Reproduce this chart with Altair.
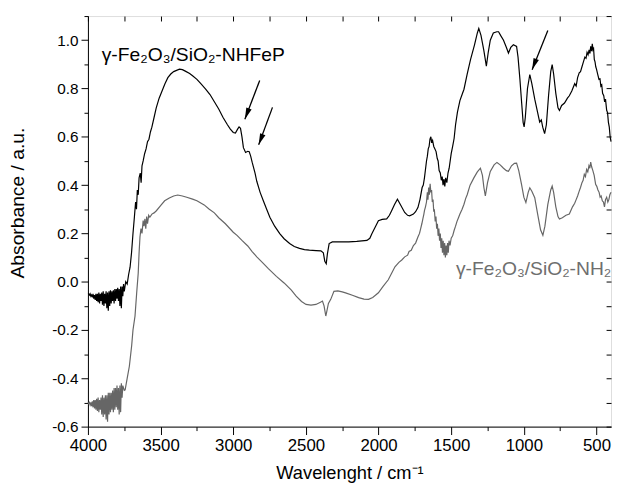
import altair as alt
import pandas as pd

# ---- data: (wavenumber cm-1, absorbance) ----
fep_points = [
    (4000, -0.05), (3995, -0.05), (3990, -0.055), (3985, -0.05), (3980, -0.06), (3975, -0.055),
    (3970, -0.065), (3965, -0.05), (3960, -0.07), (3955, -0.055), (3950, -0.075), (3945, -0.05),
    (3940, -0.08), (3935, -0.05), (3930, -0.085), (3925, -0.045), (3920, -0.09), (3915, -0.05),
    (3910, -0.08), (3905, -0.045), (3900, -0.095), (3895, -0.04), (3890, -0.10), (3885, -0.05),
    (3880, -0.09), (3875, -0.04), (3870, -0.11), (3865, -0.045), (3860, -0.12), (3855, -0.04),
    (3850, -0.10), (3845, -0.035), (3840, -0.09), (3835, -0.04), (3830, -0.08), (3825, -0.035),
    (3820, -0.09), (3815, -0.03), (3810, -0.08), (3805, -0.03), (3800, -0.07), (3795, -0.025),
    (3790, -0.08), (3785, -0.03), (3780, -0.10), (3775, -0.02), (3770, -0.11), (3765, -0.02),
    (3760, -0.06), (3755, -0.01), (3750, -0.04), (3740, 0.0), (3730, -0.01), (3720, 0.03),
    (3710, 0.06), (3700, 0.12), (3690, 0.20), (3680, 0.27), (3672, 0.33), (3666, 0.30),
    (3660, 0.38), (3654, 0.36), (3648, 0.43), (3640, 0.45), (3634, 0.41), (3628, 0.48),
    (3620, 0.50), (3610, 0.53), (3600, 0.55), (3590, 0.58), (3580, 0.59), (3570, 0.62),
    (3560, 0.64), (3545, 0.68), (3530, 0.72), (3510, 0.76), (3490, 0.79), (3470, 0.82),
    (3450, 0.845), (3430, 0.86), (3410, 0.87), (3390, 0.875), (3370, 0.88), (3350, 0.878),
    (3330, 0.872), (3300, 0.862), (3280, 0.853), (3250, 0.838), (3220, 0.818), (3190, 0.797),
    (3160, 0.775), (3130, 0.745), (3100, 0.715), (3070, 0.68), (3040, 0.65), (3020, 0.632),
    (3000, 0.618), (2985, 0.616), (2970, 0.632), (2960, 0.641), (2950, 0.635), (2940, 0.60),
    (2930, 0.555), (2915, 0.535), (2900, 0.54), (2890, 0.538), (2880, 0.52), (2870, 0.495),
    (2850, 0.45), (2838, 0.416), (2815, 0.37), (2793, 0.335), (2770, 0.30), (2748, 0.267),
    (2715, 0.23), (2680, 0.199), (2650, 0.178), (2612, 0.158), (2580, 0.146), (2544, 0.138),
    (2510, 0.133), (2476, 0.131), (2430, 0.129), (2397, 0.128), (2380, 0.12), (2370, 0.085),
    (2360, 0.075), (2352, 0.115), (2340, 0.158), (2318, 0.165), (2260, 0.165), (2205, 0.165),
    (2150, 0.167), (2080, 0.171), (2060, 0.18), (2046, 0.199), (2020, 0.23), (2001, 0.253),
    (1975, 0.258), (1944, 0.26), (1925, 0.275), (1910, 0.294), (1890, 0.32), (1870, 0.342),
    (1850, 0.32), (1820, 0.287), (1800, 0.275), (1786, 0.273), (1760, 0.28), (1745, 0.29),
    (1729, 0.307), (1715, 0.34), (1700, 0.39), (1692, 0.40), (1684, 0.43), (1676, 0.47),
    (1670, 0.50), (1664, 0.52), (1658, 0.55), (1652, 0.56), (1646, 0.59), (1640, 0.60),
    (1634, 0.575), (1628, 0.585), (1620, 0.56), (1612, 0.55), (1604, 0.539), (1596, 0.51),
    (1590, 0.50), (1583, 0.46), (1575, 0.45), (1568, 0.42), (1562, 0.435), (1556, 0.40),
    (1550, 0.425), (1544, 0.395), (1538, 0.43), (1530, 0.41), (1522, 0.45), (1514, 0.47),
    (1500, 0.53), (1490, 0.56), (1480, 0.593), (1470, 0.65), (1457, 0.702), (1440, 0.75),
    (1425, 0.775), (1412, 0.797), (1390, 0.86), (1367, 0.92), (1340, 0.98), (1320, 1.03),
    (1310, 1.049), (1295, 1.02), (1276, 0.96), (1258, 0.893), (1245, 0.95), (1231, 1.0),
    (1210, 1.03), (1186, 1.035), (1174, 1.035), (1160, 1.02), (1140, 1.0), (1120, 0.97),
    (1106, 0.947), (1090, 0.97), (1072, 0.981), (1050, 0.974), (1040, 0.93), (1027, 0.838),
    (1015, 0.74), (1005, 0.66), (998, 0.641), (990, 0.68), (975, 0.80), (959, 0.858),
    (945, 0.82), (925, 0.756), (905, 0.70), (891, 0.661), (880, 0.67), (870, 0.64),
    (857, 0.613), (845, 0.65), (830, 0.77), (815, 0.87), (805, 0.899), (795, 0.86),
    (780, 0.78), (765, 0.72), (755, 0.709), (740, 0.73), (720, 0.74), (700, 0.76),
    (687, 0.77), (670, 0.79), (650, 0.82), (640, 0.81), (630, 0.845), (619, 0.865),
    (610, 0.87), (600, 0.89), (590, 0.91), (580, 0.93), (572, 0.925), (565, 0.95),
    (558, 0.94), (551, 0.96), (545, 0.945), (540, 0.975), (534, 0.955), (529, 0.985),
    (524, 0.96), (520, 0.965), (515, 0.92), (510, 0.91), (505, 0.89), (500, 0.88),
    (492, 0.86), (483, 0.838), (476, 0.84), (470, 0.81), (464, 0.815), (458, 0.78),
    (450, 0.77), (444, 0.745), (438, 0.756), (430, 0.71), (424, 0.70), (418, 0.66),
    (412, 0.64), (406, 0.60), (400, 0.58),
]

nh2_points = [
    (4000, -0.50), (3995, -0.505), (3990, -0.50), (3985, -0.51), (3980, -0.50), (3975, -0.515),
    (3970, -0.495), (3965, -0.52), (3960, -0.49), (3955, -0.525), (3950, -0.49), (3945, -0.53),
    (3940, -0.485), (3935, -0.535), (3930, -0.48), (3925, -0.54), (3920, -0.49), (3915, -0.53),
    (3910, -0.48), (3905, -0.55), (3900, -0.47), (3895, -0.56), (3890, -0.48), (3885, -0.55),
    (3880, -0.47), (3875, -0.57), (3870, -0.47), (3865, -0.58), (3860, -0.46), (3855, -0.55),
    (3850, -0.46), (3845, -0.54), (3840, -0.46), (3835, -0.53), (3830, -0.45), (3825, -0.54),
    (3820, -0.44), (3815, -0.53), (3810, -0.44), (3805, -0.52), (3800, -0.43), (3795, -0.53),
    (3790, -0.44), (3785, -0.55), (3780, -0.43), (3775, -0.54), (3770, -0.42), (3765, -0.48),
    (3760, -0.43), (3750, -0.45), (3744, -0.448), (3730, -0.40), (3715, -0.35), (3699, -0.264),
    (3690, -0.20), (3676, -0.142), (3665, -0.05), (3654, 0.035), (3648, 0.12), (3642, 0.185),
    (3635, 0.22), (3628, 0.20), (3620, 0.253), (3614, 0.23), (3608, 0.26), (3602, 0.22),
    (3596, 0.27), (3590, 0.24), (3582, 0.275), (3574, 0.267), (3560, 0.28), (3545, 0.285),
    (3529, 0.294), (3500, 0.315), (3472, 0.335), (3440, 0.347), (3410, 0.355), (3382, 0.359),
    (3350, 0.355), (3320, 0.35), (3280, 0.342), (3250, 0.335), (3200, 0.318), (3167, 0.301),
    (3130, 0.285), (3100, 0.265), (3054, 0.24), (3000, 0.205), (2974, 0.192), (2940, 0.171),
    (2900, 0.148), (2870, 0.125), (2838, 0.103), (2800, 0.08), (2760, 0.055), (2703, 0.022),
    (2650, -0.005), (2600, -0.035), (2567, -0.06), (2530, -0.082), (2499, -0.094), (2465, -0.097),
    (2431, -0.094), (2400, -0.085), (2386, -0.08), (2375, -0.10), (2363, -0.142), (2355, -0.12),
    (2345, -0.09), (2329, -0.073), (2307, -0.04), (2280, -0.038), (2250, -0.042), (2227, -0.046),
    (2180, -0.056), (2137, -0.066), (2100, -0.072), (2069, -0.073), (2040, -0.065), (2001, -0.046),
    (1970, -0.02), (1933, 0.008), (1910, 0.035), (1887, 0.062), (1860, 0.08), (1840, 0.09),
    (1820, 0.103), (1800, 0.11), (1790, 0.125), (1775, 0.13), (1760, 0.15), (1745, 0.16),
    (1729, 0.185), (1718, 0.20), (1710, 0.22), (1702, 0.24), (1695, 0.26), (1688, 0.28),
    (1684, 0.294), (1677, 0.31), (1670, 0.33), (1664, 0.37), (1660, 0.34), (1655, 0.39),
    (1650, 0.36), (1645, 0.405), (1640, 0.37), (1635, 0.38), (1630, 0.33), (1625, 0.34),
    (1620, 0.29), (1616, 0.30), (1610, 0.25), (1605, 0.27), (1600, 0.22), (1595, 0.24),
    (1590, 0.19), (1585, 0.22), (1580, 0.17), (1575, 0.20), (1570, 0.14), (1565, 0.18),
    (1560, 0.12), (1555, 0.17), (1550, 0.11), (1545, 0.16), (1540, 0.10), (1535, 0.15),
    (1530, 0.11), (1525, 0.16), (1520, 0.12), (1515, 0.17), (1508, 0.15), (1500, 0.18),
    (1490, 0.19), (1480, 0.212), (1470, 0.23), (1460, 0.25), (1450, 0.265), (1440, 0.28),
    (1425, 0.30), (1412, 0.321), (1400, 0.345), (1390, 0.36), (1370, 0.40), (1344, 0.43),
    (1320, 0.455), (1299, 0.47), (1285, 0.44), (1275, 0.39), (1265, 0.355), (1250, 0.41),
    (1231, 0.457), (1205, 0.484), (1185, 0.494), (1163, 0.484), (1140, 0.47), (1120, 0.46),
    (1106, 0.457), (1085, 0.48), (1065, 0.49), (1050, 0.491), (1035, 0.46), (1016, 0.403),
    (1000, 0.35), (986, 0.328), (970, 0.37), (959, 0.389), (945, 0.375), (925, 0.348),
    (905, 0.28), (885, 0.215), (869, 0.192), (855, 0.23), (835, 0.32), (815, 0.38),
    (805, 0.396), (795, 0.37), (780, 0.31), (765, 0.27), (755, 0.26), (735, 0.265),
    (710, 0.275), (687, 0.28), (665, 0.31), (650, 0.325), (640, 0.34), (630, 0.355),
    (619, 0.375), (610, 0.39), (600, 0.41), (592, 0.42), (584, 0.445), (576, 0.435),
    (568, 0.465), (560, 0.455), (552, 0.48), (546, 0.47), (540, 0.495), (533, 0.475),
    (525, 0.46), (516, 0.44), (506, 0.403), (498, 0.395), (490, 0.38), (482, 0.37),
    (475, 0.35), (468, 0.355), (460, 0.335), (452, 0.33), (445, 0.31), (438, 0.34),
    (430, 0.35), (422, 0.33), (415, 0.34), (408, 0.36), (400, 0.37),
]

x_ticks = [4000, 3750, 3500, 3250, 3000, 2750, 2500, 2250, 2000, 1750, 1500, 1250, 1000, 750, 500]
y_ticks = [-0.6, -0.5, -0.4, -0.3, -0.2, -0.1, 0.0, 0.1, 0.2, 0.3, 0.4, 0.5, 0.6, 0.7, 0.8, 0.9, 1.0, 1.1]

label_text = ["γ-Fe₂O₃/SiO₂-NHFeP", "γ-Fe₂O₃/SiO₂-NH₂"]
label_x = [3905, 1467]
label_y = [0.914, 0.029]
label_color = ["#000000", "#6e6e6e"]

arrow_x = [2818, 2730, 835]
arrow_y = [0.833, 0.722, 1.04]
arrow_tip_x = [2920, 2825, 943]
arrow_tip_y = [0.673, 0.567, 0.878]

FONT = "Liberation Sans"
BLACK = "#000000"
GRAY = "#666666"

fep = pd.DataFrame(fep_points, columns=["wn", "a"])
nh2 = pd.DataFrame(nh2_points, columns=["wn", "a"])
labels = pd.DataFrame({"t": label_text, "x": label_x, "y": label_y, "c": label_color})
arrows = pd.DataFrame({"x": arrow_x, "y": arrow_y, "x2": arrow_tip_x, "y2": arrow_tip_y})


def xs():
    return alt.Scale(domain=[400, 4000], reverse=True, nice=False, zero=False)


def ys():
    return alt.Scale(domain=[-0.6, 1.1], nice=False, zero=False)


x_main_axis = alt.Axis(
    orient="bottom", values=x_ticks, format="d",
    labelExpr="datum.value % 500 == 0 ? datum.label : ''",
    tickSize={"condition": {"test": "datum.value % 500 == 0", "value": 8}, "value": 4},
    labelFontSize=17, labelFont=FONT, labelColor=BLACK, labelPadding=3,
    labelFlush=False, labelOverlap=False,
    tickColor=BLACK, domainColor=BLACK, tickWidth=1, domainWidth=1,
    title="Wavelenght / cm⁻¹", titleFont=FONT, titleFontSize=18.5, titleFontWeight="normal",
    titleColor=BLACK, titleBaseline="alphabetic", titleY=53, grid=False,
)
y_main_axis = alt.Axis(
    orient="left", values=y_ticks,
    labelExpr="abs(round(datum.value*10)) % 2 == 0 ? replace(format(datum.value, '.1f'), '\u2212', '-') : ''",
    tickSize={"condition": {"test": "abs(round(datum.value*10)) % 2 == 0", "value": 7}, "value": 4},
    labelFontSize=15.5, labelFont=FONT, labelColor=BLACK, labelPadding=3,
    labelFlush=False, labelOverlap=False,
    tickColor=BLACK, domainColor=BLACK, tickWidth=1, domainWidth=1,
    title="Absorbance / a.u.", titleFont=FONT, titleFontSize=19.5, titleFontWeight="normal",
    titleColor=BLACK, titleX=-71, titleY=189, titleBaseline="middle", titleAlign="center",
    grid=False,
)
x_top_axis = alt.Axis(orient="top", values=x_ticks, labels=False, domain=False, tickSize=5,
                      offset=-5, title=None, grid=False, tickColor=BLACK)
y_right_axis = alt.Axis(orient="right", values=y_ticks, labels=False, domain=False, tickSize=5,
                        offset=-5, title=None, grid=False, tickColor=BLACK)

line_fep = alt.Chart(fep).mark_line(color=BLACK, strokeWidth=1.2).encode(
    x=alt.X("wn:Q", scale=xs(), axis=x_main_axis),
    y=alt.Y("a:Q", scale=ys(), axis=y_main_axis),
)
line_nh2 = alt.Chart(nh2).mark_line(color=GRAY, strokeWidth=1.2).encode(
    x=alt.X("wn:Q", scale=xs(), axis=x_top_axis),
    y=alt.Y("a:Q", scale=ys(), axis=y_right_axis),
)
text = alt.Chart(labels).mark_text(align="left", baseline="alphabetic", font=FONT, fontSize=19.5).encode(
    x=alt.X("x:Q", scale=xs(), axis=None),
    y=alt.Y("y:Q", scale=ys(), axis=None),
    text="t:N",
    color=alt.Color("c:N", scale=None),
)
shafts = alt.Chart(arrows).mark_rule(color=BLACK, strokeWidth=1.3).encode(
    x=alt.X("x:Q", scale=xs(), axis=None),
    y=alt.Y("y:Q", scale=ys(), axis=None),
    x2="x2:Q",
    y2="y2:Q",
)
heads = alt.Chart(arrows).mark_point(
    shape="M0,0 L0.55,2.2 L-0.55,2.2 Z", filled=True, size=110, angle=201, color=BLACK, opacity=1
).encode(
    x=alt.X("x2:Q", scale=xs(), axis=None),
    y=alt.Y("y2:Q", scale=ys(), axis=None),
)

chart = alt.layer(line_fep, line_nh2, text, shafts, heads).properties(
    width=530, height=416,
    autosize=alt.AutoSizeParams(type="none"),
    padding={"left": 81, "top": 5, "right": 2, "bottom": 58},
).configure_view(stroke=BLACK, strokeWidth=1).configure(background="white")

chart.save("out.html", embed_options={"renderer": "svg", "actions": False})
